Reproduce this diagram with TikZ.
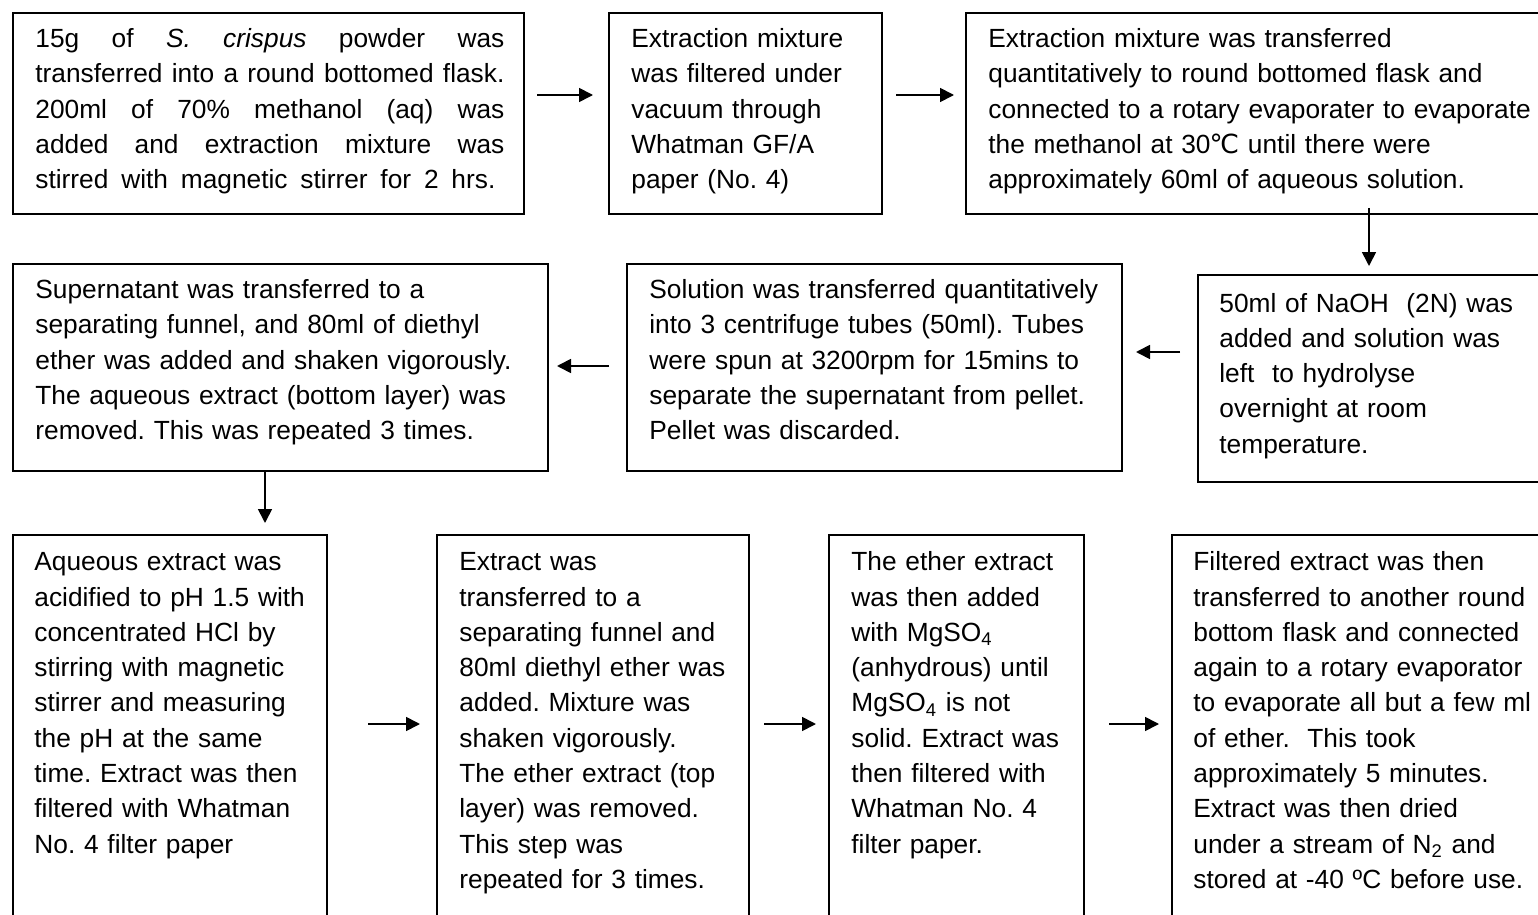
\documentclass[tikz,border=0pt]{standalone}
\usepackage{fontspec}
\setmainfont{Liberation Sans}
\newfontfamily\dejavu{DejaVu Sans}
\usetikzlibrary{fit,arrows.meta}
\frenchspacing
\tikzset{
  box/.style={draw, line width=1pt, inner sep=0pt},
  txt/.style={anchor=base west, inner sep=0pt, text width=300pt, align=left,
    font=\fontsize{13.15}{17.65}\selectfont},
  arr/.style={line width=0.85pt, -{Triangle[length=7pt,width=7pt]}}
}
\newcommand{\jl}[2][234.5pt]{\leavevmode\hbox to #1{#2}}
\begin{document}
\begin{tikzpicture}[x=0.5pt,y=-0.5pt]
\useasboundingbox (0,0) rectangle (1538,915);
\clip (0,0) rectangle (1538,915);
% boxes
\node[box, fit={(13,13)(524,214)}] (b1) {};
\node[box, fit={(609,13)(882,214)}] (b2) {};
\node[box, fit={(966,13)(1545,214)}] (b3) {};
\node[box, fit={(1198,275)(1545,482)}] (b4) {};
\node[box, fit={(627,264)(1122,471)}] (b5) {};
\node[box, fit={(13,264)(548,471)}] (b6) {};
\node[box, fit={(13,535)(327,930)}] (b7) {};
\node[box, fit={(437,535)(749,930)}] (b8) {};
\node[box, fit={(829,535)(1084,930)}] (b9) {};
\node[box, fit={(1172,535)(1545,930)}] (b10) {};
% texts
\node[txt] (t1) at (35,47.7) {\jl{15g\hfill of\hfill \textit{S.}\hfill \textit{crispus}\hfill powder\hfill was}\\
\jl{transferred\hfill into\hfill a\hfill round\hfill bottomed\hfill flask.}\\
\jl{200ml\hfill of\hfill 70\%\hfill methanol\hfill (aq)\hfill was}\\
\jl{added\hfill and\hfill extraction\hfill mixture\hfill was}\\
\jl[230pt]{stirred\hfill with\hfill magnetic\hfill stirrer\hfill for\hfill 2\hfill hrs.}};
\node[txt] (t2) at (631,47.7) {Extraction mixture\\was filtered under\\vacuum through\\Whatman GF/A\\paper (No. 4)};
\node[txt] (t3) at (988,47.7) {Extraction mixture was transferred\\quantitatively to round bottomed flask and\\connected to a rotary evaporater to evaporate\\the methanol at 30{\dejavu\kern-0.5pt ℃} until there were\\approximately 60ml of aqueous solution.};
\node[txt] (t4) at (1219,312) {50ml of NaOH\ \ (2N) was\\added and solution was\\left\ \ to hydrolyse\\overnight at room\\temperature.};
\node[txt] (t5) at (649,298.5) {Solution was transferred quantitatively\\into 3 centrifuge tubes (50ml). Tubes\\were spun at 3200rpm for 15mins to\\separate the supernatant from pellet.\\Pellet was discarded.};
\node[txt] (t6) at (35,298.5) {Supernatant was transferred to a\\separating funnel, and 80ml of diethyl\\ether was added and shaken vigorously.\\The aqueous extract (bottom layer) was\\removed. This was repeated 3 times.};
\node[txt] (t7) at (34,570.7) {Aqueous extract was\\acidified to pH 1.5 with\\concentrated HCl by\\stirring with magnetic\\stirrer and measuring\\the pH at the same\\time. Extract was then\\filtered with Whatman\\No. 4 filter paper};
\node[txt] (t8) at (459,570.7) {Extract was\\transferred to a\\separating funnel and\\80ml diethyl ether was\\added. Mixture was\\shaken vigorously.\\The ether extract (top\\layer) was removed.\\This step was\\repeated for 3 times.};
\node[txt] (t9) at (851,570.7) {The ether extract\\was then added\\with MgSO\textsubscript{4}\\(anhydrous) until\\MgSO\textsubscript{4} is not\\solid. Extract was\\then filtered with\\Whatman No. 4\\filter paper.};
\node[txt] (t10) at (1193,570.7) {Filtered extract was then\\transferred to another round\\bottom flask and connected\\again to a rotary evaporator\\to evaporate all but a few ml\\of ether.\ \ This took\\approximately 5 minutes.\\Extract was then dried\\under a stream of N\textsubscript{2} and\\stored at -40 ºC before use.};
% connector guide coordinates
\coordinate (ya) at (0,95);
\coordinate (yb1) at (0,352);
\coordinate (yb2) at (0,366);
\coordinate (yc) at (0,724);
\coordinate (xd1) at (1369,0);
\coordinate (xd2) at (265,0);
% connectors
\draw[arr, shorten <=6pt, shorten >=7.5pt] (b1.east |- ya) -- (b2.west |- ya);
\draw[arr, shorten <=6.5pt, shorten >=5.5pt] (b2.east |- ya) -- (b3.west |- ya);
\draw[arr, shorten <=-3.5pt, shorten >=4pt] (b3.south -| xd1) -- (b4.north -| xd1);
\draw[arr, shorten <=8.5pt, shorten >=6.5pt] (b4.west |- yb1) -- (b5.east |- yb1);
\draw[arr, shorten <=8.5pt, shorten >=4pt] (b5.west |- yb2) -- (b6.east |- yb2);
\draw[arr, shorten <=0pt, shorten >=5.5pt] (b6.south -| xd2) -- (b7.north -| xd2);
\draw[arr, shorten <=20pt, shorten >=8pt] (b7.east |- yc) -- (b8.west |- yc);
\draw[arr, shorten <=7pt, shorten >=6pt] (b8.east |- yc) -- (b9.west |- yc);
\draw[arr, shorten <=12pt, shorten >=6pt] (b9.east |- yc) -- (b10.west |- yc);
\end{tikzpicture}
\end{document}
